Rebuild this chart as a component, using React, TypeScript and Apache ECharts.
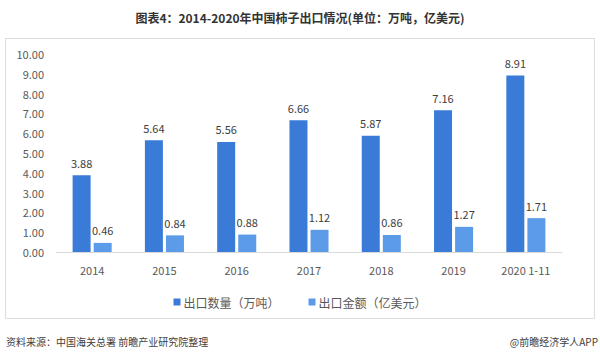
import React, { useEffect, useRef } from "react";
import * as echarts from "echarts";

const categories = ["2014", "2015", "2016", "2017", "2018", "2019", "2020 1-11"];
const volume = [3.88, 5.64, 5.56, 6.66, 5.87, 7.16, 8.91];
const amount = [0.46, 0.84, 0.88, 1.12, 0.86, 1.27, 1.71];
const seriesNames = ["出口数量（万吨）", "出口金额（亿美元）"];
const titleText = "图表4：2014-2020年中国柿子出口情况(单位：万吨，亿美元)";
const sourceText = "资料来源：中国海关总署 前瞻产业研究院整理";
const brandText = "@前瞻经济学人APP";

const FONT = "'Noto Sans CJK SC', 'Noto Sans', sans-serif";

export default function App() {
  const ref = useRef<HTMLDivElement>(null);
  useEffect(() => {
    document.body.style.margin = "0";
    const chart = echarts.init(ref.current!, null, { renderer: "svg" });
    chart.setOption({
      animation: false,
      backgroundColor: "#ffffff",
      textStyle: { fontFamily: FONT },
      title: {
        text: titleText,
        left: "center",
        top: 6,
        textStyle: { fontSize: 12, fontWeight: "bold", color: "#333333", fontFamily: FONT },
      },
      legend: {
        data: seriesNames,
        top: 291,
        left: "center",
        itemWidth: 7,
        itemHeight: 7,
        itemGap: 29,
        icon: "rect",
        textStyle: { fontSize: 12, color: "#595959", fontFamily: FONT, padding: [0, 0, 0, -2] },
      },
      grid: { left: 56, right: 38, top: 54, bottom: 106, containLabel: false },
      xAxis: {
        type: "category",
        data: categories,
        axisLine: { lineStyle: { color: "#d9d9d9" } },
        axisTick: { show: false },
        axisLabel: { color: "#595959", fontSize: 11, margin: 12, fontFamily: FONT },
      },
      yAxis: {
        type: "value",
        min: 0,
        max: 10,
        interval: 1,
        splitLine: { show: false },
        axisLine: { show: false },
        axisTick: { show: false },
        axisLabel: {
          color: "#595959",
          fontSize: 11,
          margin: 12,
          fontFamily: FONT,
          formatter: (v: number) => v.toFixed(2),
        },
      },
      series: [
        {
          name: seriesNames[0],
          type: "bar",
          data: volume,
          barWidth: 18,
          barGap: "17%",
          itemStyle: { color: "#3a7bd8" },
          label: {
            show: true,
            position: "top",
            distance: 7,
            color: "#404040",
            fontSize: 11,
            fontFamily: FONT,
            formatter: (p: any) => p.value.toFixed(2),
          },
        },
        {
          name: seriesNames[1],
          type: "bar",
          data: amount,
          barWidth: 18,
          itemStyle: { color: "#5b9be8" },
          label: {
            show: true,
            position: "top",
            distance: 7,
            color: "#404040",
            fontSize: 11,
            fontFamily: FONT,
            formatter: (p: any) => p.value.toFixed(2),
          },
        },
      ],
      graphic: [
        {
          type: "rect",
          shape: { x: 5.5, y: 38.5, width: 589, height: 280 },
          style: { fill: "none", stroke: "#dcdcdc", lineWidth: 1 },
          silent: true,
        },
        {
          type: "text",
          left: 6,
          top: 336,
          style: { text: sourceText, fill: "#404040", fontSize: 10, fontFamily: FONT },
        },
        {
          type: "text",
          right: 2,
          top: 336,
          style: { text: brandText, fill: "#404040", fontSize: 10, fontFamily: FONT },
        },
      ],
    });
    return () => chart.dispose();
  }, []);
  return (
    <div
      ref={ref}
      style={{ position: "absolute", left: 0, top: 0, width: 600, height: 358 }}
    />
  );
}
